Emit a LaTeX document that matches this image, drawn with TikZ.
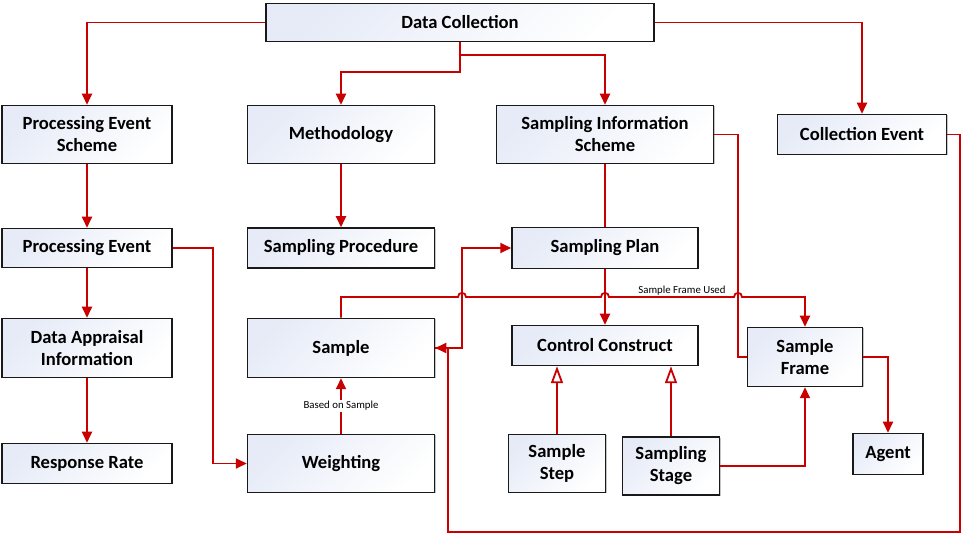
\documentclass[tikz,border=0pt]{standalone}
\usepackage{fontspec}
\setmainfont{Carlito}
\usetikzlibrary{arrows.meta,shadows}
\definecolor{boxtop}{RGB}{230,235,247}
\definecolor{linkred}{RGB}{200,0,0}
\definecolor{boxedge}{RGB}{25,25,25}
\tikzset{
  box/.style={draw=boxedge, line width=1.5pt, top color=boxtop, bottom color=white,
    shading angle=45, align=center, inner sep=0pt,
    font=\bfseries\fontsize{18.6}{22}\selectfont,
    drop shadow={shadow xshift=1pt, shadow yshift=-1pt, fill=black!45, opacity=0.5}},
  link/.style={draw=linkred, line width=1.8pt, line join=miter},
  arr/.style={link, -{Triangle[length=11pt,width=10pt]}},
  gen/.style={link, -{Triangle[open,fill=white,length=17pt,width=12pt]}},
  lbl/.style={font=\fontsize{10.8}{12}\selectfont, inner sep=1pt}
}
\begin{document}
\begin{tikzpicture}[x=1pt,y=-1pt]
\fill[white] (0,0) rectangle (962,534);
\useasboundingbox (0,0) rectangle (962,534);

\node[box, minimum width=388, minimum height=38] (dc) at (460,22.5) {Data Collection};
\node[box, minimum width=170, minimum height=58] (pes) at (87,134.5) {Processing Event\\Scheme};
\node[box, minimum width=187, minimum height=58] (meth) at (341,134.5) {Methodology};
\node[box, minimum width=217, minimum height=58] (sis) at (605,134.5) {Sampling Information\\Scheme};
\node[box, minimum width=169, minimum height=40] (ce) at (862,134.5) {Collection Event};
\node[box, minimum width=170, minimum height=39] (pe) at (87,248) {Processing Event};
\node[box, minimum width=187, minimum height=40] (sproc) at (341,248) {Sampling Procedure};
\node[box, minimum width=186, minimum height=41] (splan) at (605,248) {Sampling Plan};
\node[box, minimum width=170, minimum height=59] (dai) at (87,348) {Data Appraisal\\Information};
\node[box, minimum width=187, minimum height=59] (sample) at (341,348) {Sample};
\node[box, minimum width=186, minimum height=40] (cc) at (605,345.5) {Control Construct};
\node[box, minimum width=115, minimum height=59] (sf) at (805,357) {Sample\\Frame};
\node[box, minimum width=170, minimum height=40] (rr) at (87,463.5) {Response Rate};
\node[box, minimum width=187, minimum height=58] (wt) at (341,463.5) {Weighting};
\node[box, minimum width=97, minimum height=58] (sstep) at (557,463.5) {Sample\\Step};
\node[box, minimum width=97, minimum height=58] (sstage) at (671,466) {Sampling\\Stage};
\node[box, minimum width=70, minimum height=41] (agent) at (888,454) {Agent};

% Data Collection links
\draw[arr] (dc.west) -| (pes.north);
\draw[arr] (dc.south) -- (dc.south |- 0,72) -| (meth.north);
\draw[arr] (dc.south) -- (dc.south |- 0,55) -| (sis.north);
\draw[arr] (dc.east) -| (ce.north);

% left column
\draw[arr] (pes.south) -- (pe.north);
\draw[arr] (pe.south) -- (dai.north);
\draw[arr] (dai.south) -- (rr.north);
\draw[arr] (pe.east) -- (pe.east -| 213,0) |- (wt.west);

% middle
\draw[arr] (meth.south) -- (sproc.north);
\draw[arr] (wt.north) -- (sample.south) node[midway, fill=white, lbl] {Based on Sample};
\draw[arr] (sample.east) -- (sample.east -| 462,0) |- (splan.west);

% sampling information scheme
\draw[link] (sis.south) -- (splan.north);
\draw[arr] (splan.south) -- (cc.north);
\draw[link] (sis.east) -- (sis.east -| 738,0) |- (sf.west);

% Sample Frame Used (with line hops)
\draw[arr] (sample.north) -- (sample.north |- 0,297) -- (458,297)
  .. controls (458,291.5) and (466,291.5) .. (466,297) -- (601,297)
  .. controls (601,291.5) and (609,291.5) .. (609,297) -- (734,297)
  .. controls (734,291.5) and (742,291.5) .. (742,297) -- (sf.north |- 0,297) -- (sf.north);
\node[lbl, anchor=south] (sfu) at (682,296) {Sample Frame Used};

% generalisations
\draw[gen] (sstep.north) -- (sstep.north |- cc.south);
\draw[gen] (sstage.north) -- (sstage.north |- cc.south);

% right side
\draw[arr] (sstage.east) -| (sf.south);
\draw[arr] (sf.east) -| (agent.north);
\draw[arr] (ce.east) -| (960,532) -| (sample.east -| 448,0) -- (sample.east);
\end{tikzpicture}
\end{document}
